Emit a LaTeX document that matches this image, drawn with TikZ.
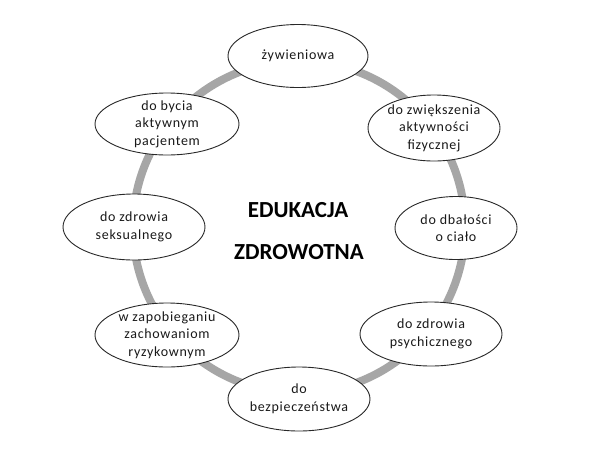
\documentclass[tikz,border=0pt]{standalone}
\usepackage{fontspec}
\setmainfont{Carlito}
\newfontfamily\bubfont[LetterSpace=5]{Carlito}
\usetikzlibrary{shapes.geometric}
\definecolor{ringgray}{RGB}{166,166,166}
\definecolor{edge}{RGB}{40,40,40}
\tikzset{
  bubble/.style={ellipse, draw=edge, line width=0.9pt, fill=white, inner sep=0pt, minimum width=142pt, minimum height=64pt},
  txt/.style={align=center, inner sep=0pt, font=\bubfont\fontsize{14}{17.5}\selectfont, text=black!90},
  title/.style={inner sep=0pt, font=\bfseries\fontsize{23}{27}\selectfont, text=black}
}
\begin{document}
\begin{tikzpicture}[x=1pt,y=-1pt]
\useasboundingbox (0,0) rectangle (591,459);
\fill[white] (0,0) rectangle (591,459);
\draw[ringgray, line width=8pt] (299,227) circle (166);
\node[bubble, minimum width=140pt, minimum height=63pt] (n1) at (298,56) {};
\node[txt] at (n1) {żywieniowa};
\node[bubble, minimum width=132pt, minimum height=66pt] (n2) at (434,128) {};
\node[txt] at (n2) {do zwiększenia\\aktywności\\fizycznej};
\node[bubble, minimum width=122pt, minimum height=63pt] (n3) at (456,228) {};
\node[txt] at (n3) {do dbałości\\o ciało};
\node[bubble] (n4) at (431,334) {};
\node[txt] at (n4) {do zdrowia\\psychicznego};
\node[bubble] (n5) at (299,399) {};
\node[txt] at (n5) {do\\bezpieczeństwa};
\node[bubble, minimum width=144pt] (n6) at (167,335) {};
\node[txt] at (n6) {w zapobieganiu\\zachowaniom\\ryzykownym};
\node[bubble, minimum height=66pt] (n7) at (134,227) {};
\node[txt] at (n7) {do zdrowia\\seksualnego};
\node[bubble, minimum width=144pt, minimum height=62pt] (n8) at (167,124) {};
\node[txt] at (n8) {do bycia\\aktywnym\\pacjentem};
\node[title] (t1) at (298,210) {EDUKACJA};
\node[title] (t2) at (299,252) {ZDROWOTNA};
\end{tikzpicture}
\end{document}
